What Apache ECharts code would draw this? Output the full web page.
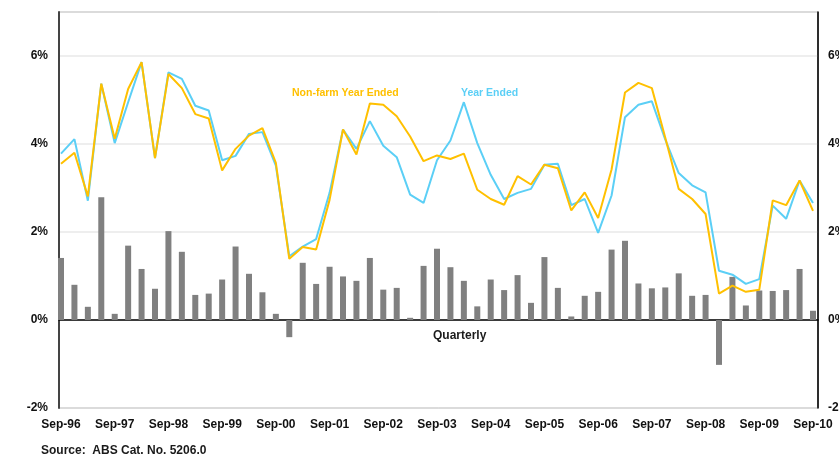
<!DOCTYPE html>
<html>
<head>
<meta charset="utf-8">
<script src="https://cdn.jsdelivr.net/npm/echarts@6/dist/echarts.min.js"></script>
<style>
  html, body { margin: 0; padding: 0; background: #fff; }
  #chart { width: 839px; height: 454px; }
</style>
</head>
<body>
<div id="chart"></div>
<script>
// Quarterly labels, Sep-96 through Sep-10
const monthNames = ['Sep', 'Dec', 'Mar', 'Jun'];
const quarters = [];
for (let i = 0; i < 57; i++) {
  const yr = 1996 + Math.floor(i / 4) + (i % 4 >= 2 ? 1 : 0);
  quarters.push(monthNames[i % 4] + '-' + String(yr % 100).padStart(2, '0'));
}

// Quarterly growth (%)
const quarterly = [
  1.41, 0.80, 0.30, 2.79, 0.14, 1.69, 1.16, 0.71, 2.02, 1.55,
  0.57, 0.60, 0.92, 1.67, 1.05, 0.63, 0.14, -0.39, 1.30, 0.82,
  1.21, 0.99, 0.89, 1.41, 0.69, 0.73, 0.05, 1.23, 1.62, 1.20,
  0.89, 0.31, 0.92, 0.68, 1.02, 0.39, 1.43, 0.73, 0.08, 0.55,
  0.64, 1.60, 1.80, 0.83, 0.72, 0.74, 1.06, 0.55, 0.57, -1.02,
  0.98, 0.33, 0.67, 0.66, 0.68, 1.16, 0.21
];

// Year-ended growth (%)
const yearEnded = [
  3.78, 4.11, 2.71, 5.37, 4.02, 4.95, 5.86, 3.68, 5.63, 5.48,
  4.87, 4.76, 3.63, 3.73, 4.23, 4.27, 3.51, 1.45, 1.67, 1.84,
  2.89, 4.33, 3.89, 4.52, 3.96, 3.70, 2.85, 2.66, 3.63, 4.08,
  4.95, 4.02, 3.30, 2.75, 2.89, 2.98, 3.53, 3.55, 2.61, 2.75,
  1.98, 2.83, 4.61, 4.89, 4.97, 4.10, 3.34, 3.06, 2.90, 1.12,
  1.03, 0.82, 0.93, 2.60, 2.30, 3.17, 2.66
];

// Non-farm year-ended growth (%)
const nonFarmYearEnded = [
  3.55, 3.80, 2.81, 5.37, 4.12, 5.25, 5.86, 3.68, 5.59, 5.27,
  4.68, 4.58, 3.40, 3.89, 4.19, 4.36, 3.57, 1.39, 1.66, 1.60,
  2.73, 4.33, 3.76, 4.92, 4.89, 4.63, 4.17, 3.61, 3.74, 3.66,
  3.78, 2.96, 2.75, 2.62, 3.27, 3.08, 3.53, 3.45, 2.49, 2.90,
  2.32, 3.42, 5.17, 5.39, 5.27, 4.14, 2.98, 2.75, 2.41, 0.60,
  0.78, 0.64, 0.69, 2.72, 2.61, 3.17, 2.48
];

const yTicks = { min: -2, max: 7, interval: 2 };

const FONT = '"Liberation Sans", Arial, sans-serif';
const ORANGE = '#FFC000';
const BLUE = '#5BCFF6';

const chart = echarts.init(document.getElementById('chart'), null, { renderer: 'canvas' });

chart.setOption({
  animation: false,
  backgroundColor: '#ffffff',
  grid: [
    // data area
    { left: 61, right: 26, top: 12, bottom: 46, outerBoundsMode: 'none', containLabel: false },
    // outer frame with gridlines and both value scales
    { left: 59, right: 21, top: 12, bottom: 46, outerBoundsMode: 'none', containLabel: false,
      show: true, borderColor: '#6a6a6a', borderWidth: 1, backgroundColor: 'transparent' }
  ],
  xAxis: [
    {
      gridIndex: 0,
      type: 'category',
      data: quarters,
      boundaryGap: false,
      axisLine: { show: false },
      axisTick: { show: true, inside: true, length: 4, interval: 3, lineStyle: { color: '#000', width: 1 } },
      axisLabel: {
        interval: 3, margin: 11, color: '#111',
        fontFamily: FONT, fontWeight: 'bold', fontSize: 12
      },
      splitLine: { show: false }
    },
    {
      gridIndex: 1,
      type: 'value',
      min: 0, max: 1,
      axisLine: { show: true, lineStyle: { color: '#000', width: 1.5 } },
      axisTick: { show: false },
      axisLabel: { show: false },
      splitLine: { show: false }
    }
  ],
  yAxis: [
    {
      gridIndex: 0,
      type: 'value',
      min: yTicks.min, max: yTicks.max, interval: yTicks.interval,
      axisLine: { show: false }, axisTick: { show: false },
      axisLabel: { show: false }, splitLine: { show: false }
    },
    {
      gridIndex: 1,
      type: 'value',
      position: 'left',
      min: yTicks.min, max: yTicks.max, interval: yTicks.interval,
      axisLine: { show: true, onZero: false, lineStyle: { color: '#444', width: 2 } },
      axisTick: { show: false },
      axisLabel: {
        margin: 11, color: '#111', fontFamily: FONT, fontWeight: 'bold', fontSize: 12,
        showMaxLabel: false,
        formatter: v => (v === yTicks.max ? '' : v + '%')
      },
      splitLine: { show: true, lineStyle: { color: '#e9e9e9', width: 1.5 } }
    },
    {
      gridIndex: 1,
      type: 'value',
      position: 'right',
      min: yTicks.min, max: yTicks.max, interval: yTicks.interval,
      axisLine: { show: true, onZero: false, lineStyle: { color: '#000', width: 1.5 } },
      axisTick: { show: false },
      axisLabel: {
        margin: 10, color: '#111', fontFamily: FONT, fontWeight: 'bold', fontSize: 12,
        showMaxLabel: false,
        formatter: v => (v === yTicks.max ? '' : v + '%')
      },
      splitLine: { show: false }
    }
  ],
  series: [
    {
      name: 'Quarterly',
      type: 'bar',
      xAxisIndex: 0, yAxisIndex: 0,
      data: quarterly,
      barWidth: 6,
      clip: false,
      itemStyle: { color: '#808080' },
      z: 2
    },
    {
      name: 'Year Ended',
      type: 'line',
      xAxisIndex: 0, yAxisIndex: 0,
      data: yearEnded,
      symbol: 'none',
      lineStyle: { color: BLUE, width: 2 },
      z: 3
    },
    {
      name: 'Non-farm Year Ended',
      type: 'line',
      xAxisIndex: 0, yAxisIndex: 0,
      data: nonFarmYearEnded,
      symbol: 'none',
      lineStyle: { color: ORANGE, width: 2 },
      z: 4
    }
  ],
  graphic: [
    {
      type: 'text', left: 292, top: 88,
      style: { text: 'Non-farm Year Ended', fill: ORANGE, font: 'bold 10.5px ' + FONT }
    },
    {
      type: 'text', left: 461, top: 88,
      style: { text: 'Year Ended', fill: BLUE, font: 'bold 10.5px ' + FONT }
    },
    {
      type: 'text', left: 433, top: 330,
      style: { text: 'Quarterly', fill: '#1a1a1a', font: 'bold 12px ' + FONT }
    },
    {
      type: 'text', left: 41, top: 445,
      style: { text: 'Source:  ABS Cat. No. 5206.0', fill: '#1a1a1a', font: 'bold 12px ' + FONT }
    }
  ]
});
</script>
</body>
</html>
